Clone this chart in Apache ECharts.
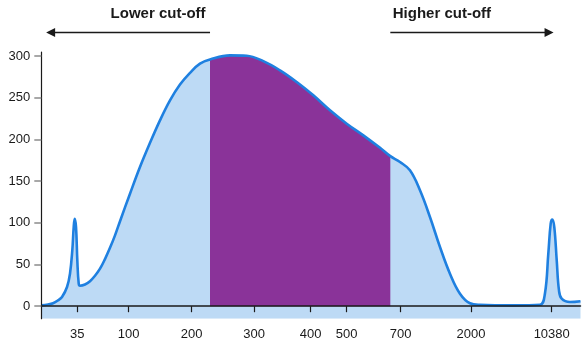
<!DOCTYPE html>
<html>
<head>
<meta charset="utf-8">
<script src="https://cdn.jsdelivr.net/npm/echarts@6/dist/echarts.min.js"></script>
<style>
  html, body { margin: 0; padding: 0; background: #ffffff; }
  #chart { width: 583px; height: 344px; }
</style>
</head>
<body>
<div id="chart"></div>
<script>
// Ladder calibration: where each size marker (bp) sits along the run position axis
const ladderPositions = [6.68, 16.21, 27.89, 39.45, 49.96, 56.64, 66.65, 79.69, 94.66];
const ladderLabels = ['35', '100', '200', '300', '400', '500', '700', '2000', '10380'];

// Electropherogram trace: run position and fluorescence signal
const position = [
  0.00, 1.24, 2.17, 3.10, 3.84, 4.77, 5.32, 5.75, 6.01, 6.19, 6.44, 6.68, 6.94, 7.18,
  8.10, 9.03, 9.96, 10.89, 11.81, 12.74, 13.67, 14.60, 16.45, 18.30, 20.16, 22.01,
  23.87, 25.72, 27.58, 29.43, 31.29, 34.99, 38.09, 41.17, 44.27, 47.37, 50.45, 53.54,
  56.64, 59.72, 62.82, 64.73, 66.52, 68.37, 70.23, 72.08, 73.94, 75.79, 77.65, 79.50,
  81.36, 87.54, 92.47, 93.40, 94.03, 94.47, 94.77, 95.14, 95.59, 96.01, 96.51, 98.05,
  100.00
];
const signal = [
  1, 2, 3.5, 7, 11, 23, 39, 67, 95, 105, 95, 55, 27, 24.5,
  26, 30, 36.5, 45, 56.5, 70, 85, 102, 135, 167, 196, 223,
  247, 266, 280, 291, 296, 301, 300.5, 294, 283, 269, 253, 235,
  219, 205, 190, 180, 173, 163, 139, 107, 71, 39, 15, 3.6,
  1.7, 1, 1.7, 15, 63, 99, 104, 95, 55, 19, 9, 5,
  6
];

// Size-selection window (run positions of the lower and higher cut-offs)
const targetStart = 31.29;
const targetEnd = 64.73;

const trace = position.map((p, i) => [p, signal[i]]);
const targetTrace = trace.filter(d => d[0] >= targetStart && d[0] <= targetEnd);

const FONT = '"Liberation Sans", Arial, sans-serif';
const chart = echarts.init(document.getElementById('chart'), null, { renderer: 'canvas' });

const smoothing = 0.4;

chart.setOption({
  animation: false,
  backgroundColor: '#ffffff',
  textStyle: { fontFamily: FONT },
  grid: { left: 41.3, right: 2.5, top: 52, bottom: 25.3 },
  xAxis: {
    type: 'value',
    min: 0,
    max: 100,
    z: 10,
    axisLine: { show: true, lineStyle: { color: '#1a1a1a', width: 1.5 } },
    axisTick: {
      show: true,
      customValues: ladderPositions,
      length: 6,
      lineStyle: { color: '#1a1a1a', width: 1.2 }
    },
    axisLabel: {
      customValues: ladderPositions,
      margin: 9,
      color: '#1a1a1a',
      fontSize: 13,
      fontFamily: FONT,
      formatter: v => {
        const i = ladderPositions.findIndex(p => Math.abs(p - v) < 1e-6);
        return i >= 0 ? ladderLabels[i] : '';
      }
    },
    splitLine: { show: false }
  },
  yAxis: {
    type: 'value',
    min: -15,
    max: 305,
    z: 10,
    axisLine: { show: true, lineStyle: { color: '#1a1a1a', width: 1.2 } },
    axisTick: {
      show: true,
      customValues: [0, 50, 100, 150, 200, 250, 300],
      length: 7,
      lineStyle: { color: '#8c8c8c', width: 1.5 }
    },
    axisLabel: {
      customValues: [0, 50, 100, 150, 200, 250, 300],
      margin: 11,
      color: '#1a1a1a',
      fontSize: 13,
      fontFamily: FONT
    },
    splitLine: { show: false }
  },
  series: [
    {
      name: 'fill',
      type: 'line',
      data: trace,
      smooth: smoothing,
      symbol: 'none',
      lineStyle: { width: 0 },
      areaStyle: { color: '#bddaf5', opacity: 1, origin: 'start' },
      z: 1
    },
    {
      name: 'target',
      type: 'line',
      data: targetTrace,
      smooth: smoothing,
      symbol: 'none',
      lineStyle: { width: 0 },
      areaStyle: { color: '#8a3399', opacity: 1, origin: 'auto' },
      z: 2
    },
    {
      name: 'trace',
      type: 'line',
      data: trace,
      smooth: smoothing,
      symbol: 'none',
      lineStyle: { color: '#1f80e0', width: 2.6 },
      z: 3
    }
  ]
});

// Annotations: cut-off arrows above the plot and the label inside the window
const left = chart.convertToPixel({ gridIndex: 0 }, [targetStart, 0]);
const right = chart.convertToPixel({ gridIndex: 0 }, [targetEnd, 0]);
const xMinPx = chart.convertToPixel({ gridIndex: 0 }, [0.9, 0])[0];
const xTipPx = chart.convertToPixel({ gridIndex: 0 }, [95.0, 0])[0];
const arrowY = 32.5;
const head = 9;
const halfH = 4.5;
const arrowColor = '#1a1a1a';

chart.setOption({
  graphic: [
    {
      type: 'text',
      x: (xMinPx + left[0]) / 2 + 30, y: 14,
      style: {
        text: 'Lower cut-off', fill: '#1a1a1a', font: 'bold 15px ' + FONT,
        align: 'center', verticalAlign: 'middle'
      }
    },
    {
      type: 'text',
      x: (right[0] + xTipPx) / 2 - 30, y: 14,
      style: {
        text: 'Higher cut-off', fill: '#1a1a1a', font: 'bold 15px ' + FONT,
        align: 'center', verticalAlign: 'middle'
      }
    },
    {
      type: 'line',
      shape: { x1: xMinPx + head - 1, y1: arrowY, x2: left[0], y2: arrowY },
      style: { stroke: arrowColor, lineWidth: 1.5 }
    },
    {
      type: 'polygon',
      shape: { points: [[xMinPx, arrowY], [xMinPx + head, arrowY - halfH], [xMinPx + head, arrowY + halfH]] },
      style: { fill: arrowColor }
    },
    {
      type: 'line',
      shape: { x1: right[0], y1: arrowY, x2: xTipPx - head + 1, y2: arrowY },
      style: { stroke: arrowColor, lineWidth: 1.5 }
    },
    {
      type: 'polygon',
      shape: { points: [[xTipPx, arrowY], [xTipPx - head, arrowY - halfH], [xTipPx - head, arrowY + halfH]] },
      style: { fill: arrowColor }
    },
    {
      type: 'text',
      x: (left[0] + right[0]) / 2, y: 208,
      style: {
        text: 'Target\nregion\nsize', fill: '#ffffff', font: 'bold 18px ' + FONT,
        lineHeight: 24, align: 'center', verticalAlign: 'middle'
      }
    }
  ]
});
</script>
</body>
</html>
